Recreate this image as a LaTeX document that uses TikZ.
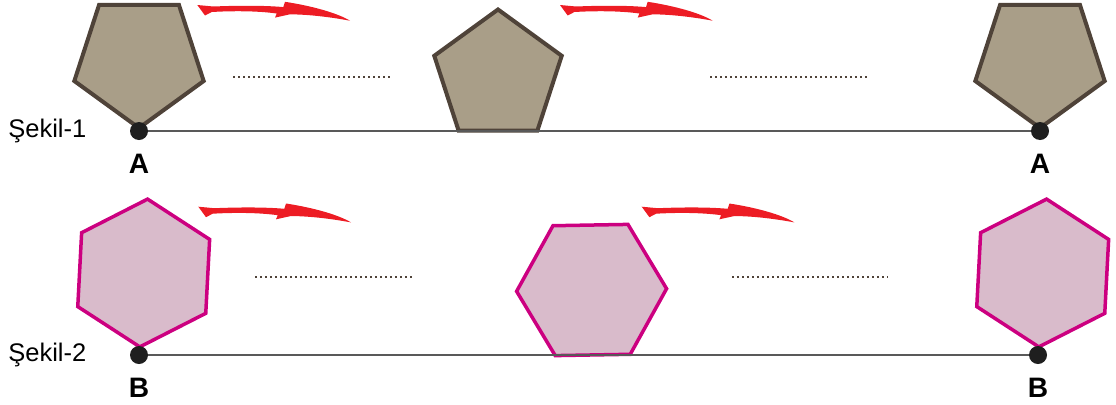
\documentclass[tikz,border=0pt]{standalone}
\usepackage{fontspec}
\setmainfont{Liberation Sans}
\usetikzlibrary{calc,positioning}
\definecolor{stonefill}{HTML}{A99E88}
\definecolor{stoneline}{HTML}{4F4339}
\definecolor{hexfill}{HTML}{D9BBCB}
\definecolor{hexline}{HTML}{CC0080}
\definecolor{turnred}{HTML}{ED1C24}
\definecolor{axisgray}{HTML}{595959}
\tikzset{
  pics/turn/.style={code={
    \fill[turnred] (0,0) -- (16,-1.5) .. controls (45,-0.3) and (70,-0.6) .. (86,-2.1)
      -- (87.7,3.2) .. controls (115,-1) and (140,-8) .. (152.7,-15.7)
      .. controls (130,-11.5) and (110,-9.5) .. (92.7,-9.3) -- (77.7,-12.6) -- (79.4,-8.5)
      .. controls (60,-5.8) and (35,-5.8) .. (14.4,-7) -- (7.7,-10.5) -- cycle;}}
}
\begin{document}
\begin{tikzpicture}[x=0.2mm, y=0.2mm, every node/.style={font=\fontsize{14.5}{17}\selectfont, inner sep=0pt},
  penta/.style={fill=stonefill, draw=stoneline, line width=0.8mm},
  hexa/.style={fill=hexfill, draw=hexline, line width=0.7mm},
  pt/.style={circle, fill=black!88, minimum size=3.6mm},
  axis/.style={draw=axisgray, line width=0.4mm},
  gap/.style={draw=stoneline, line width=0.4mm, dash pattern=on 0.4mm off 0.6mm},
  tag/.style={font=\fontsize{16}{19}\selectfont\bfseries}]
\useasboundingbox (0,0) rectangle (1116,404);
% first row: pentagon
\coordinate (p1) at (139,344);
\coordinate (p2) at (498,327.5);
\coordinate (p3) at (1040,344);
\draw[penta] ($(p1)+(270:68)$) \foreach \k in {1,...,4} {-- ($(p1)+({270+72*\k}:68)$)} -- cycle;
\draw[penta] ($(p2)+(90:67)$) \foreach \k in {1,...,4} {-- ($(p2)+({90+72*\k}:67)$)} -- cycle;
\draw[penta] ($(p3)+(270:68)$) \foreach \k in {1,...,4} {-- ($(p3)+({270+72*\k}:68)$)} -- cycle;
\node[pt] (a1) at (139,273) {};
\node[pt] (a2) at (1040,273) {};
\draw[axis] (a1) -- (a2);
\node[left=8.6mm of a1] (s1) {Şekil-1};
\node[tag,below=2.6mm of a1] (la1) {A};
\node[tag,below=2.6mm of a2] (la2) {A};
\draw[gap] (233,327) -- (392,327);
\draw[gap] (710,327) -- (868,327);
\pic at (197.3,399) {turn};
\pic at (560,399) {turn};
% second row: hexagon
\coordinate (h1) at (143.7,131);
\coordinate (h2) at (591.6,114);
\coordinate (h3) at (1042.7,131);
\draw[hexa] ($(h1)+(267:74)$) \foreach \k in {1,...,5} {-- ($(h1)+({267+60*\k}:74)$)} -- cycle;
\draw[hexa] ($(h2)+(1:75)$) \foreach \k in {1,...,5} {-- ($(h2)+({1+60*\k}:75)$)} -- cycle;
\draw[hexa] ($(h3)+(267:74)$) \foreach \k in {1,...,5} {-- ($(h3)+({267+60*\k}:74)$)} -- cycle;
\node[pt] (b1) at (139,49) {};
\node[pt] (b2) at (1038,49) {};
\draw[axis] (b1) -- (b2);
\node[left=8.6mm of b1] (s2) {Şekil-2};
\node[tag,below=2.6mm of b1] (lb1) {B};
\node[tag,below=2.6mm of b2] (lb2) {B};
\draw[gap] (255,127) -- (413,127);
\draw[gap] (732,127) -- (888,127);
\pic at (198.3,197.3) {turn};
\pic at (641.7,197.3) {turn};
\end{tikzpicture}
\end{document}
